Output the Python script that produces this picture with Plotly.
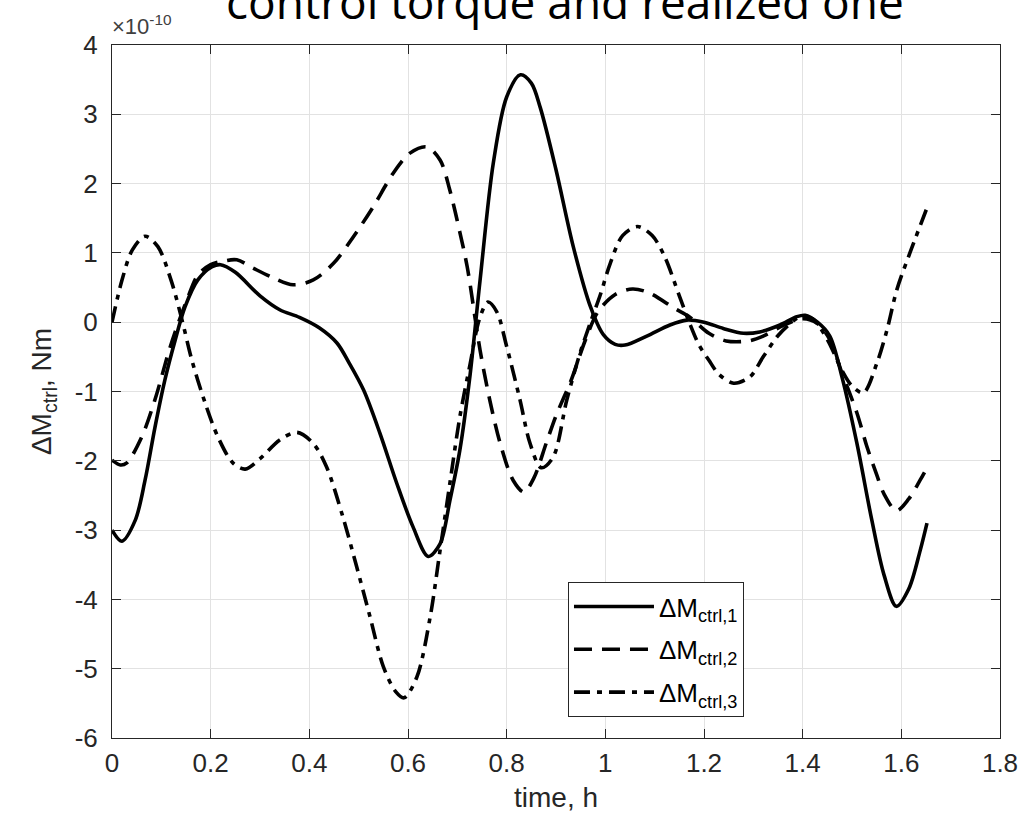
import plotly.graph_objects as go

# Time axis (hours) and control torque deviations, in units of 1e-10 N*m
t1 = [0, 0.02, 0.047, 0.067, 0.087, 0.107, 0.128, 0.148, 0.174, 0.203, 0.22, 0.25,
      0.3, 0.34, 0.38, 0.42, 0.456, 0.48, 0.51, 0.543, 0.577, 0.61, 0.641, 0.665,
      0.685, 0.705, 0.726, 0.746, 0.773, 0.8, 0.828, 0.85, 0.868, 0.9, 0.935, 0.97,
      0.996, 1.02, 1.04, 1.084, 1.131, 1.165, 1.2, 1.239, 1.28, 1.313, 1.354, 1.388,
      1.405, 1.43, 1.455, 1.48, 1.51, 1.54, 1.565, 1.59, 1.615, 1.638, 1.652]
m1 = [-3.0, -3.16, -2.86, -2.28, -1.52, -0.84, -0.26, 0.22, 0.61, 0.80, 0.83, 0.72,
      0.38, 0.18, 0.07, -0.08, -0.3, -0.58, -0.98, -1.6, -2.32, -2.95, -3.38, -3.2,
      -2.57, -1.85, -0.75, 0.6, 2.3, 3.25, 3.57, 3.45, 3.1, 2.2, 1.09, 0.22,
      -0.18, -0.32, -0.33, -0.2, -0.04, 0.03, 0.0, -0.09, -0.16, -0.14, -0.04, 0.08,
      0.1, 0.0, -0.2, -0.8, -1.75, -2.85, -3.65, -4.1, -3.85, -3.3, -2.9]

t2 = [0, 0.017, 0.03, 0.06, 0.087, 0.114, 0.13, 0.154, 0.174, 0.2, 0.225, 0.253,
      0.286, 0.327, 0.367, 0.408, 0.449, 0.489, 0.529, 0.57, 0.604, 0.638, 0.665,
      0.685, 0.705, 0.72, 0.746, 0.766, 0.787, 0.813, 0.835, 0.855, 0.88, 0.9, 0.93,
      0.96, 0.985, 1.02, 1.055, 1.09, 1.14, 1.17, 1.21, 1.245, 1.29, 1.32, 1.36, 1.4,
      1.43, 1.455, 1.48, 1.51, 1.53, 1.55, 1.565, 1.59, 1.615, 1.638, 1.652]
m2 = [-1.99, -2.06, -2.03, -1.66, -1.12, -0.45, -0.1, 0.36, 0.68, 0.83, 0.88, 0.9,
      0.78, 0.64, 0.54, 0.61, 0.85, 1.23, 1.66, 2.15, 2.44, 2.53, 2.34,
      1.9, 1.3, 0.8, -0.4, -1.13, -1.75, -2.28, -2.45, -2.25, -1.75, -1.35, -0.85,
      -0.25, 0.15, 0.4, 0.48, 0.42, 0.2, 0.08, -0.16, -0.27, -0.27, -0.2, -0.05, 0.05,
      -0.02, -0.25, -0.74, -1.31, -1.79, -2.2, -2.48, -2.72, -2.55, -2.28, -2.1]

t3 = [0, 0.02, 0.041, 0.067, 0.093, 0.12, 0.142, 0.162, 0.189, 0.215, 0.245, 0.27,
      0.3, 0.34, 0.375, 0.408, 0.435, 0.468, 0.496, 0.523, 0.55, 0.575, 0.592, 0.618,
      0.645, 0.665, 0.685, 0.705, 0.726, 0.745, 0.762, 0.78, 0.8, 0.827, 0.847, 0.87,
      0.894, 0.922, 0.949, 0.97, 0.99, 1.01, 1.035, 1.065, 1.095, 1.12, 1.15, 1.17,
      1.19, 1.21, 1.23, 1.26, 1.293, 1.32, 1.348, 1.37, 1.395, 1.42, 1.45, 1.48, 1.5,
      1.523, 1.55, 1.571, 1.591, 1.62, 1.652]
m3 = [0.0, 0.6, 1.04, 1.24, 1.09, 0.6, 0.03, -0.55, -1.17, -1.66, -2.03, -2.12,
      -1.97, -1.7, -1.59, -1.75, -2.09, -2.81, -3.53, -4.25, -4.97, -5.33, -5.42, -5.12,
      -4.25, -3.29, -2.32, -1.37, -0.6, 0.05, 0.29, 0.15, -0.35, -1.12, -1.74, -2.1,
      -1.95, -1.12, -0.44, 0.0, 0.4, 0.85, 1.25, 1.38, 1.25, 0.95, 0.38, 0.0,
      -0.33, -0.55, -0.75, -0.88, -0.79, -0.5, -0.21, -0.05, 0.08, 0.05, -0.25, -0.7, -0.92,
      -1.02, -0.6, -0.11, 0.47, 1.05, 1.65]

series_names = ["ΔM<sub>ctrl,1</sub>", "ΔM<sub>ctrl,2</sub>", "ΔM<sub>ctrl,3</sub>"]

x_ticks = [0, 0.2, 0.4, 0.6, 0.8, 1.0, 1.2, 1.4, 1.6, 1.8]
x_tick_text = ["0", "0.2", "0.4", "0.6", "0.8", "1", "1.2", "1.4", "1.6", "1.8"]
y_ticks = [4, 3, 2, 1, 0, -1, -2, -3, -4, -5, -6]
y_tick_text = ["4", "3", "2", "1", "0", "-1", "-2", "-3", "-4", "-5", "-6"]

title_text = "control torque and realized one"
exponent_text = "×10<sup>-10</sup>"

line_dashes = ["solid", "18px,10px", "16px,7px,5px,7px"]

FONT = "Liberation Sans, Arial, sans-serif"

fig = go.Figure()
for i, (t, m, name, dash) in enumerate(zip([t1, t2, t3], [m1, m2, m3], series_names, line_dashes)):
    fig.add_trace(go.Scatter(
        x=t, y=m, mode="lines", name=name, legendgroup=f"g{i}",
        line=dict(color="black", width=3.6, dash=dash, shape="spline", smoothing=0.9),
    ))

axis_common = dict(
    showline=True, linecolor="#262626", linewidth=1, mirror="ticks",
    ticks="inside", ticklen=9, tickcolor="#262626", tickwidth=1,
    showgrid=True, gridcolor="#e2e2e2", gridwidth=1,
    zeroline=False,
    tickfont=dict(family=FONT, size=26, color="#262626"),
)

fig.update_xaxes(
    range=[0, 1.8], tickvals=x_ticks, ticktext=x_tick_text,
    title=dict(text="time, h", standoff=10,
               font=dict(family=FONT, size=28, color="#262626")),
    ticklabelstandoff=2,
    **axis_common,
)
fig.update_yaxes(
    range=[-6, 4], tickvals=y_ticks, ticktext=y_tick_text,
    title=dict(text="ΔM<sub>ctrl</sub>, Nm", standoff=14,
               font=dict(family=FONT, size=28, color="#262626")),
    ticklabelstandoff=8,
    **axis_common,
)

fig.add_annotation(
    text=title_text, xref="paper", yref="paper", x=0.51, y=1.016,
    xanchor="center", yanchor="bottom", showarrow=False,
    font=dict(family="Open Sans, sans-serif", size=46, color="black"),
)
fig.add_annotation(
    text=exponent_text, xref="paper", yref="paper", x=-0.002, y=1.006,
    xanchor="left", yanchor="bottom", showarrow=False,
    font=dict(family=FONT, size=22, color="#404040"),
)

fig.update_layout(
    width=1035, height=822,
    margin=dict(l=112, r=35, t=45, b=84),
    plot_bgcolor="white", paper_bgcolor="white",
    showlegend=True,
    legend=dict(
        x=0.5135, y=0.225, xanchor="left", yanchor="top",
        bgcolor="white", bordercolor="#262626", borderwidth=1,
        font=dict(family=FONT, size=26, color="black"),
        itemwidth=80, tracegroupgap=6,
    ),
)

fig.write_html("out.html")
